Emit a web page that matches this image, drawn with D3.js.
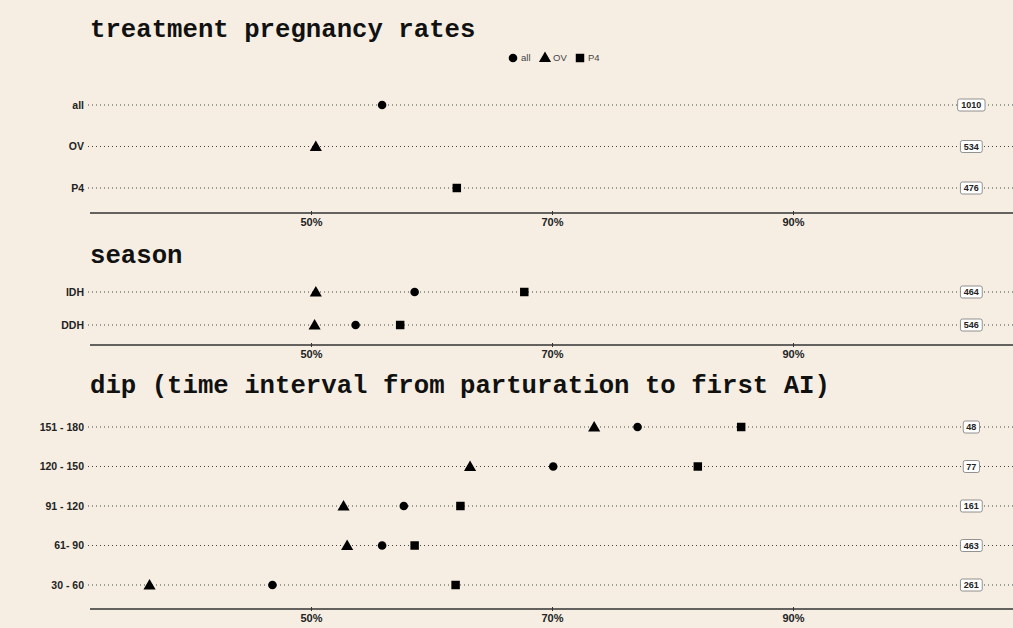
<!DOCTYPE html>
<html><head><meta charset="utf-8">
<script src="https://cdn.jsdelivr.net/npm/d3@7"></script>
<style>body{margin:0;background:#f6eee2;}svg{display:block;}</style>
</head><body>
<svg id="c" width="1013" height="628"></svg>
<script>
const series = ["all","OV","P4"];
const tickValues = [50,70,90];

const treatCats = ["all","OV","P4"];
const treatAll = [55.9, null, null];
const treatOV  = [null, 50.4, null];
const treatP4  = [null, null, 62.1];
const treatN   = [1010, 534, 476];

const seasonCats = ["IDH","DDH"];
const seasonAll = [58.6, 53.7];
const seasonOV  = [50.4, 50.3];
const seasonP4  = [67.7, 57.4];
const seasonN   = [464, 546];

const dipCats = ["151 - 180","120 - 150","91 - 120","61- 90","30 - 60"];
const dipAll = [77.1, 70.1, 57.7, 55.9, 46.8];
const dipOV  = [73.5, 63.2, 52.7, 53.0, 36.6];
const dipP4  = [85.7, 82.1, 62.4, 58.6, 62.0];
const dipN   = [48, 77, 161, 463, 261];

const svg = d3.select("#c");
svg.append("rect").attr("width",1013).attr("height",628).attr("fill","#f6eee2");

const x = d3.scaleLinear().domain([50,90]).range([311,793]);
const nPos = 104.8;
const xLeft = 88, xRight = 1013;
const sans = "'Liberation Sans',Arial,Helvetica,sans-serif";

const shapes = {all: d3.symbolCircle, OV: d3.symbolTriangle, P4: d3.symbolSquare};
const sizes = {all: 58, OV: 64, P4: 72};

function panel(title, titleY, cats, vals, ns, yRange, axisY){
  svg.append("text").attr("x",90).attr("y",titleY).text(title)
    .attr("font-family","'Liberation Mono','Courier New',monospace")
    .attr("font-weight","bold").attr("font-size","25.7px").attr("fill","#111");
  const y = d3.scalePoint().domain(cats).range(yRange);
  const g = svg.append("g");
  cats.forEach((c,i)=>{
    const yy = y(c);
    g.append("line").attr("x1",xLeft).attr("x2",xRight).attr("y1",yy).attr("y2",yy)
      .attr("stroke","#444").attr("stroke-width",1).attr("stroke-dasharray","1,3");
    g.append("text").attr("x",84).attr("y",yy).attr("dy","0.35em").attr("text-anchor","end")
      .attr("font-family",sans).attr("font-weight","bold")
      .attr("font-size","10.5px").attr("fill","#222").text(c);
    const t = String(ns[i]);
    const w = t.length*5.6 + 5;
    const cx = x(nPos);
    g.append("rect").attr("x",cx-w/2).attr("y",yy-6).attr("width",w).attr("height",12)
      .attr("rx",2).attr("fill","#fff").attr("stroke","#777").attr("stroke-width",0.8);
    g.append("text").attr("x",cx).attr("y",yy).attr("dy","0.35em").attr("text-anchor","middle")
      .attr("font-family",sans).attr("font-weight","bold")
      .attr("font-size","9px").attr("fill","#222").text(t);
    series.forEach((s,k)=>{
      const v = vals[k][i];
      if(v==null) return;
      g.append("path").attr("d", d3.symbol().type(shapes[s]).size(sizes[s])())
        .attr("transform",`translate(${x(v)},${yy + (s==="OV"?1:0)})`).attr("fill","#000");
    });
  });
  const ax = svg.append("g").attr("transform",`translate(0,${axisY})`);
  ax.append("line").attr("x1",90).attr("x2",xRight).attr("stroke","#333").attr("stroke-width",1.6);
  const axis = d3.axisBottom(x).tickValues(tickValues).tickFormat(d=>d+"%").tickSize(0).tickPadding(5);
  const a = svg.append("g").attr("transform",`translate(0,${axisY})`).call(axis);
  a.select(".domain").remove();
  a.selectAll("text").attr("font-family",sans)
    .attr("font-weight","bold").attr("font-size","11px").attr("fill","#222");
  a.selectAll(".tick").append("line").attr("y1",-2).attr("y2",2).attr("stroke","#333");
}

panel("treatment pregnancy rates", 37, treatCats, [treatAll,treatOV,treatP4], treatN, [105,188], 213);
panel("season", 263, seasonCats, [seasonAll,seasonOV,seasonP4], seasonN, [292,325], 345);
panel("dip (time interval from parturation to first AI)", 393, dipCats, [dipAll,dipOV,dipP4], dipN, [427,585], 609);

// legend
const lg = svg.append("g").attr("transform","translate(0,58)");
const legendItems = [{s:"all",x:513},{s:"OV",x:545},{s:"P4",x:580}];
legendItems.forEach(d=>{
  lg.append("path").attr("d", d3.symbol().type(shapes[d.s]).size(sizes[d.s])())
    .attr("transform",`translate(${d.x},${d.s==="OV"?0.5:0})`).attr("fill","#000");
  lg.append("text").attr("x",d.x+8).attr("y",0).attr("dy","0.35em")
    .attr("font-family",sans).attr("font-size","9.5px")
    .attr("fill","#444").text(d.s);
});
</script>
</body></html>
